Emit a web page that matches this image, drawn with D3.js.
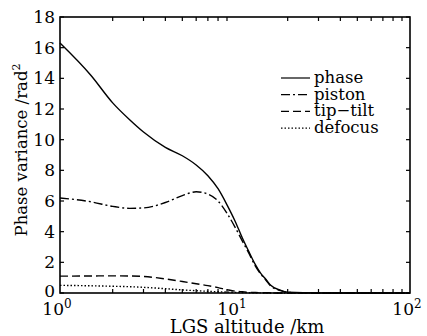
<!DOCTYPE html>
<html><head><meta charset="utf-8">
<script src="https://cdn.jsdelivr.net/npm/d3@7"></script>
<style>body{margin:0;background:#fff}svg{display:block}text{font-family:"DejaVu Serif",serif;fill:#000}</style>
</head><body>
<script>
const altitude = [1,1.5,2,2.5,3,4,5,6,7,8,9,10,11,12,13,14,15,16,18,20,30,50,100];
const phase   = [16.3,14.2,12.4,11.3,10.5,9.5,8.95,8.35,7.65,6.8,5.75,4.7,3.6,2.7,1.9,1.3,0.9,0.5,0.2,0.05,0,0,0];
const piston  = [6.2,5.95,5.65,5.52,5.55,5.9,6.35,6.6,6.45,6.0,5.2,4.3,3.4,2.6,1.8,1.25,0.85,0.45,0.18,0.04,0,0,0];
const tiptilt = [1.1,1.11,1.12,1.11,1.08,0.92,0.75,0.6,0.48,0.35,0.22,0.12,0.08,0.05,0.03,0.02,0.02,0.01,0,0,0,0,0];
const defocus = [0.5,0.47,0.44,0.41,0.37,0.28,0.2,0.15,0.11,0.08,0.06,0.04,0.03,0.02,0.01,0.01,0.01,0,0,0,0,0,0];
const seriesNames = ["phase","piston","tip\u2212tilt","defocus"];
const yTicks = [0,2,4,6,8,10,12,14,16,18];
const xTickExps = [0,1,2];

const W=427,H=336, L=60,R=410,T=17,B=293;
const svg=d3.select("body").append("svg").attr("width",W).attr("height",H);
const x=d3.scaleLog().domain([1,100]).range([L,R]);
const y=d3.scaleLinear().domain([0,18]).range([B,T]);

const styles=[
  {dash:null},
  {dash:"9,3,2,3"},
  {dash:"8,4"},
  {dash:"1.5,2"}
];
const data=[phase,piston,tiptilt,defocus];
const line=d3.line().x((d,i)=>x(altitude[i])).y(d=>y(d)).curve(d3.curveMonotoneX);
const g=svg.append("g");
data.forEach((s,k)=>{
  g.append("path").attr("d",line(s)).attr("fill","none").attr("stroke","#000")
   .attr("stroke-width",1.4).attr("stroke-dasharray",styles[k].dash);
});

// frame
svg.append("rect").attr("x",L).attr("y",T).attr("width",R-L).attr("height",B-T)
  .attr("fill","none").attr("stroke","#000").attr("stroke-width",1.6);

// axes with inward ticks
const minor=[];
[1,10].forEach(b=>{for(let m=2;m<=9;m++)minor.push(b*m);});
const ax=svg.append("g");
minor.forEach(v=>{
  ax.append("line").attr("x1",x(v)).attr("x2",x(v)).attr("y1",B).attr("y2",B-4).attr("stroke","#000").attr("stroke-width",1.2);
  ax.append("line").attr("x1",x(v)).attr("x2",x(v)).attr("y1",T).attr("y2",T+4).attr("stroke","#000").attr("stroke-width",1.2);
});
yTicks.forEach(v=>{
  ax.append("line").attr("x1",L).attr("x2",L+4).attr("y1",y(v)).attr("y2",y(v)).attr("stroke","#000").attr("stroke-width",1.2);
  ax.append("line").attr("x1",R).attr("x2",R-4).attr("y1",y(v)).attr("y2",y(v)).attr("stroke","#000").attr("stroke-width",1.2);
  ax.append("text").attr("x",L-5).attr("y",y(v)+(v===0?4:6)).attr("text-anchor","end").attr("font-size",17).text(v);
});
xTickExps.forEach(e=>{
  const t=ax.append("text").attr("x",x(Math.pow(10,e))-3).attr("y",315).attr("text-anchor","middle").attr("font-size",17);
  t.append("tspan").text("10");
  t.append("tspan").attr("dy",-7).attr("font-size",12).text(e);
});
svg.append("text").attr("x",247).attr("y",333).attr("text-anchor","middle").attr("font-size",18).text("LGS altitude /km");
const yl=svg.append("text").attr("transform","translate(27,150) rotate(-90)").attr("text-anchor","middle").attr("font-size",16.5);
yl.append("tspan").text("Phase variance /rad");
yl.append("tspan").attr("dy",-7).attr("font-size",11).text("2");

// legend
const lg=svg.append("g");
seriesNames.forEach((n,k)=>{
  const yy=78+k*16.7;
  lg.append("line").attr("x1",281).attr("x2",310).attr("y1",yy).attr("y2",yy).attr("stroke","#000")
    .attr("stroke-width",1.2).attr("stroke-dasharray",styles[k].dash);
  lg.append("text").attr("x",314).attr("y",yy+5).attr("font-size",16.5).text(n);
});
</script>
</body></html>
